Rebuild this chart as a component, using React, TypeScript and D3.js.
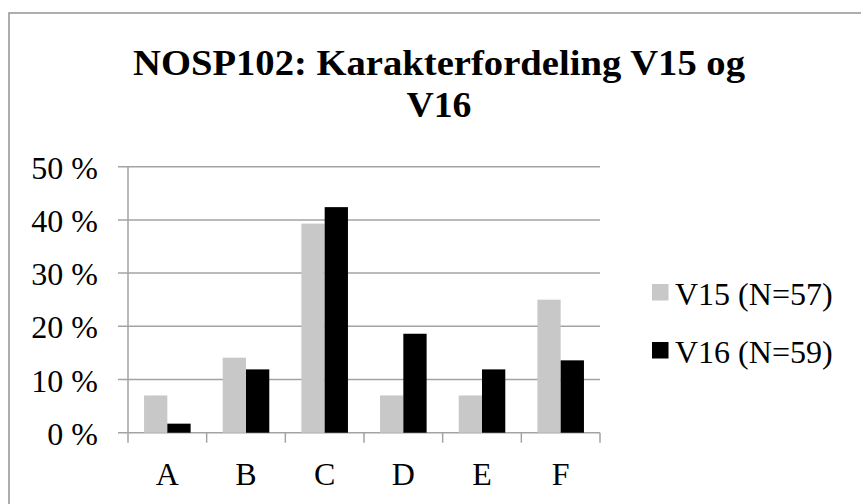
import React from "react";
import * as d3 from "d3";

const categories = ["A", "B", "C", "D", "E", "F"];
const seriesNames = ["V15 (N=57)", "V16 (N=59)"];
const v15 = [7.0, 14.1, 39.3, 7.0, 7.0, 25.0];
const v16 = [1.7, 11.9, 42.4, 18.6, 11.9, 13.6];
const yTicks = [0, 10, 20, 30, 40, 50];
const titleLines = ["NOSP102: Karakterfordeling V15 og", "V16"];
const colors = ["#c8c8c8", "#000000"];

const W = 861;
const H = 504;
const plot = { left: 128, right: 600, top: 166.7, bottom: 432.7 };
const FONT = "'Liberation Serif', 'Times New Roman', serif";
const titleWidths = [612, 65];

export default function App() {
  const x = d3.scaleBand<string>().domain(categories).range([plot.left, plot.right]).padding(0);
  const bw = x.bandwidth();
  const x1 = d3
    .scaleBand<string>()
    .domain(seriesNames)
    .range([bw * 0.204, bw * 0.796])
    .padding(0);
  const y = d3.scaleLinear().domain([0, 50]).range([plot.bottom, plot.top]);
  const series = [v15, v16];
  const gridColor = "#a3a3a3";

  return (
    <svg
      width={W}
      height={H}
      style={{ position: "absolute", left: 0, top: 0, background: "#fff" }}
      fontFamily={FONT}
    >
      <rect x={0} y={0} width={W} height={H} fill="#fff" />
      <rect x={9} y={13} width={1000} height={1000} fill="none" stroke="#9a9a9a" strokeWidth={1.6} />

      {/* title */}
      {titleLines.map((t, i) => (
        <text
          key={i}
          x={439}
          y={75 + i * 41.7}
          textAnchor="middle"
          fontWeight="bold"
          fontSize={35}
          fill="#000"
          textLength={titleWidths[i]}
          lengthAdjust="spacingAndGlyphs"
        >
          {t}
        </text>
      ))}

      {/* gridlines */}
      {yTicks.map((t) => (
        <line
          key={t}
          x1={plot.left - 10}
          x2={plot.right}
          y1={y(t)}
          y2={y(t)}
          stroke={gridColor}
          strokeWidth={1.5}
        />
      ))}
      {/* y axis */}
      <line x1={plot.left} x2={plot.left} y1={plot.top} y2={plot.bottom + 10} stroke={gridColor} strokeWidth={1.5} />
      {/* x ticks */}
      {categories.map((c) => (
        <line
          key={c}
          x1={(x(c) as number) + bw}
          x2={(x(c) as number) + bw}
          y1={plot.bottom}
          y2={plot.bottom + 10}
          stroke={gridColor}
          strokeWidth={1.5}
        />
      ))}

      {/* bars */}
      {categories.map((c, ci) => (
        <g key={c} transform={`translate(${x(c)},0)`}>
          {series.map((s, si) => (
            <rect
              key={si}
              x={x1(seriesNames[si]) as number}
              y={y(s[ci])}
              width={x1.bandwidth()}
              height={y(0) - y(s[ci])}
              fill={colors[si]}
            />
          ))}
        </g>
      ))}

      {/* y labels */}
      {yTicks.map((t) => (
        <text key={t} x={98} y={y(t) + 12} textAnchor="end" fontSize={32} fill="#000">
          {`${t} %`}
        </text>
      ))}

      {/* x labels */}
      {categories.map((c) => (
        <text
          key={c}
          x={(x(c) as number) + bw / 2}
          y={485}
          textAnchor="middle"
          fontSize={32}
          fill="#000"
        >
          {c}
        </text>
      ))}

      {/* legend */}
      {seriesNames.map((n, i) => (
        <g key={n} transform={`translate(0,${i * 58})`}>
          <rect x={652} y={284} width={16.5} height={16.5} fill={colors[i]} />
          <text x={675} y={305} fontSize={32} fill="#000">
            {n}
          </text>
        </g>
      ))}
    </svg>
  );
}
